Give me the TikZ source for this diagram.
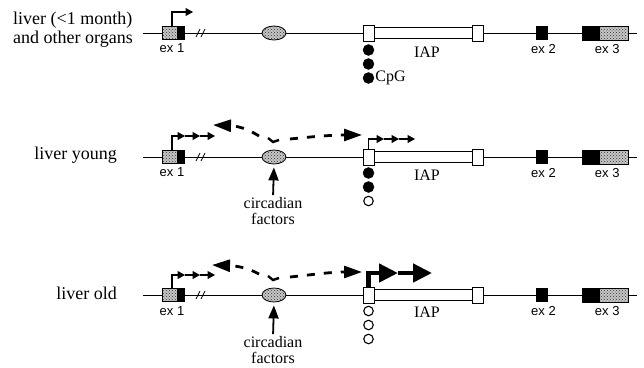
\documentclass[tikz,border=0pt]{standalone}
\usepackage{fontspec}
\setmainfont{Liberation Serif}
\setsansfont{Liberation Sans}
\usetikzlibrary{arrows.meta, positioning, shapes.geometric, patterns}

\begin{document}
\begin{tikzpicture}[x=1pt, y=-1pt,
    every node/.style={inner sep=0},
    dotpart/.style={draw, line width=0.7pt, minimum height=13, preaction={fill=gray!45}, pattern=crosshatch dots, pattern color=black!80},
    blackpart/.style={draw, fill=black, line width=0.7pt, minimum height=13},
    ltr/.style={draw, fill=white, line width=0.8pt, minimum width=11, minimum height=16},
    iap/.style={draw, fill=white, line width=0.8pt, minimum width=98, minimum height=11},
    enhancer/.style={ellipse, draw, line width=0.8pt, minimum width=24, minimum height=14, preaction={fill=gray!45}, pattern=crosshatch dots, pattern color=black!80},
    cpg/.style={circle, draw, fill=black, minimum size=11},
    cpgopen/.style={circle, draw, fill=white, line width=1.1pt, minimum size=9.5},
    exlabel/.style={font=\sffamily\fontsize{13}{14}\selectfont},
    txt/.style={font=\fontsize{16}{16}\selectfont, align=center},
    rowlabel/.style={font=\fontsize{18}{19}\selectfont, align=left},
    track/.style={line width=0.9pt},
    prom/.style={line width=1.2pt, -{Triangle[length=7.5pt, width=8pt]}},
    bigprom/.style={line width=4.5pt, -{Triangle[length=19pt, width=18pt]}},
    enhact/.style={line width=2.8pt, dash pattern=on 8pt off 9pt, -{Triangle[length=18pt, width=12pt]}},
    factor/.style={line width=1.8pt, -{Triangle[length=13pt, width=10pt]}, shorten <=2pt, shorten >=3pt},
]
    \useasboundingbox (0,0) rectangle (644,367);

    % Fila 1: higado joven y otros organos
    \node[rowlabel, anchor=west] (rowA) at (13,29.5) {liver (<1 month)\\and other organs};
    \coordinate (sA) at (143,33);
    \coordinate (eA) at (637,33);
    \draw[track] (sA) -- (eA);
    \draw[line width=0.8pt] (196,37) -- (200,29) (201,37) -- (205,29);
    \node[dotpart, minimum width=15] (exA1) at (169.5,33) {};
    \node[blackpart, minimum width=7, right=0pt of exA1] (bA1) {};
    \node[exlabel, below=4pt of exA1, xshift=2.5pt] (lexA1) {ex 1};
    \node[enhancer] (enA) at (274,33) {};
    \node[iap] (iapA) at (423,33) {};
    \node[ltr] (ltrA1) at (368.5,33) {};
    \node[ltr] (ltrA2) at (477.5,33) {};
    \node[txt] (tA) at (427,52) {IAP};
    \node[blackpart, minimum width=11] (exA2) at (541.5,33) {};
    \node[exlabel, below=4pt of exA2, xshift=2pt] (lexA2) {ex 2};
    \node[blackpart, minimum width=17, minimum height=14] (bA3) at (590.5,33) {};
    \node[dotpart, minimum width=29, minimum height=14, right=0pt of bA3] (exA3) {};
    \node[exlabel, below=4pt of exA3, xshift=-7pt] (lexA3) {ex 3};
    \node[cpg] (cA1) at (368.5,50) {};
    \node[cpg] (cA2) at (368.5,64) {};
    \node[cpg] (cA3) at (368.5,78) {};
    \node[txt, right=1pt of cA3] (cpgA) {CpG};
    \coordinate (pA) at (193,12);
    \draw[prom] ([xshift=2.5pt]exA1.north) |- (pA);

    % Fila 2: higado joven
    \node[rowlabel, anchor=east] (rowB) at (117,155) {liver young};
    \coordinate (sB) at (143,157);
    \coordinate (eB) at (637,157);
    \draw[track] (sB) -- (eB);
    \draw[line width=0.8pt] (196,161) -- (200,153) (201,161) -- (205,153);
    \node[dotpart, minimum width=15] (exB1) at (169.5,157) {};
    \node[blackpart, minimum width=7, right=0pt of exB1] (bB1) {};
    \node[exlabel, below=4pt of exB1, xshift=2.5pt] (lexB1) {ex 1};
    \node[enhancer] (enB) at (274,157) {};
    \node[iap] (iapB) at (423,157) {};
    \node[ltr] (ltrB1) at (368.5,157) {};
    \node[ltr] (ltrB2) at (477.5,157) {};
    \node[txt] (tB) at (427,175) {IAP};
    \node[blackpart, minimum width=11] (exB2) at (541.5,157) {};
    \node[exlabel, below=4pt of exB2, xshift=2pt] (lexB2) {ex 2};
    \node[blackpart, minimum width=17, minimum height=14] (bB3) at (590.5,157) {};
    \node[dotpart, minimum width=29, minimum height=14, right=0pt of bB3] (exB3) {};
    \node[exlabel, below=4pt of exB3, xshift=-7pt] (lexB3) {ex 3};
    \node[cpg] (cB1) at (368.5,173) {};
    \node[cpg] (cB2) at (368.5,187) {};
    \node[cpgopen] (cB3) at (368.5,201) {};
    \node[txt] (cfB) at (273,211) {circadian\\factors};
    \draw[factor] (cfB.north) -- (enB.south);
    \coordinate (qB1) at (185,136);
    \coordinate (qB2) at (200,136);
    \coordinate (qB3) at (215,136);
    \draw[prom] ([xshift=2.5pt]exB1.north) |- (qB1);
    \draw[prom] (qB1) -- (qB2);
    \draw[prom] (qB2) -- (qB3);
    \coordinate (iB1) at (384,139);
    \coordinate (iB2) at (399,139);
    \coordinate (iB3) at (415,139);
    \draw[prom] (ltrB1.north) |- (iB1);
    \draw[prom] (iB1) -- (iB2);
    \draw[prom] (iB2) -- (iB3);
    \coordinate (nB) at (273,142);
    \coordinate (nBl) at (259,136);
    \coordinate (nBr) at (290,139);
    \coordinate (tipLB) at (213,125);
    \coordinate (tipRB) at (362,135);
    \draw[line width=2.4pt] (nB) ++(-5,-4) -- (nB) -- ++(6,-2);
    \draw[enhact] (nBl) .. controls (248,129) and (238,126) .. (tipLB);
    \draw[enhact] (nBr) .. controls (310,137) and (330,135) .. (tipRB);

    % Fila 3: higado viejo
    \node[rowlabel, anchor=east] (rowC) at (117,293) {liver old};
    \coordinate (sC) at (143,295);
    \coordinate (eC) at (637,295);
    \draw[track] (sC) -- (eC);
    \draw[line width=0.8pt] (196,299) -- (200,291) (201,299) -- (205,291);
    \node[dotpart, minimum width=15] (exC1) at (169.5,295) {};
    \node[blackpart, minimum width=7, right=0pt of exC1] (bC1) {};
    \node[exlabel, below=4pt of exC1, xshift=2.5pt] (lexC1) {ex 1};
    \node[enhancer] (enC) at (274,295) {};
    \node[iap] (iapC) at (423,295) {};
    \node[ltr] (ltrC1) at (368.5,295) {};
    \node[ltr] (ltrC2) at (477.5,295) {};
    \node[txt] (tC) at (427,312) {IAP};
    \node[blackpart, minimum width=11] (exC2) at (541.5,295) {};
    \node[exlabel, below=4pt of exC2, xshift=2pt] (lexC2) {ex 2};
    \node[blackpart, minimum width=17, minimum height=14] (bC3) at (590.5,295) {};
    \node[dotpart, minimum width=29, minimum height=14, right=0pt of bC3] (exC3) {};
    \node[exlabel, below=4pt of exC3, xshift=-7pt] (lexC3) {ex 3};
    \node[cpgopen] (cC1) at (368.5,311) {};
    \node[cpgopen] (cC2) at (368.5,325) {};
    \node[cpgopen] (cC3) at (368.5,339) {};
    \node[txt] (cfC) at (273,350) {circadian\\factors};
    \draw[factor] (cfC.north) -- (enC.south);
    \coordinate (qC1) at (185,275);
    \coordinate (qC2) at (200,275);
    \coordinate (qC3) at (215,275);
    \draw[prom] ([xshift=2.5pt]exC1.north) |- (qC1);
    \draw[prom] (qC1) -- (qC2);
    \draw[prom] (qC2) -- (qC3);
    \coordinate (jC1) at (398,273);
    \coordinate (jC2) at (432,273);
    \draw[bigprom] (ltrC1.north) |- (jC1);
    \draw[bigprom] (jC1) -- (jC2);
    \coordinate (nC) at (273,280);
    \coordinate (nCl) at (259,274);
    \coordinate (nCr) at (290,277);
    \coordinate (tipLC) at (212,265);
    \coordinate (tipRC) at (362,272);
    \draw[line width=2.4pt] (nC) ++(-5,-4) -- (nC) -- ++(6,-2);
    \draw[enhact] (nCl) .. controls (248,268) and (238,266) .. (tipLC);
    \draw[enhact] (nCr) .. controls (310,275) and (330,272) .. (tipRC);
\end{tikzpicture}
\end{document}
